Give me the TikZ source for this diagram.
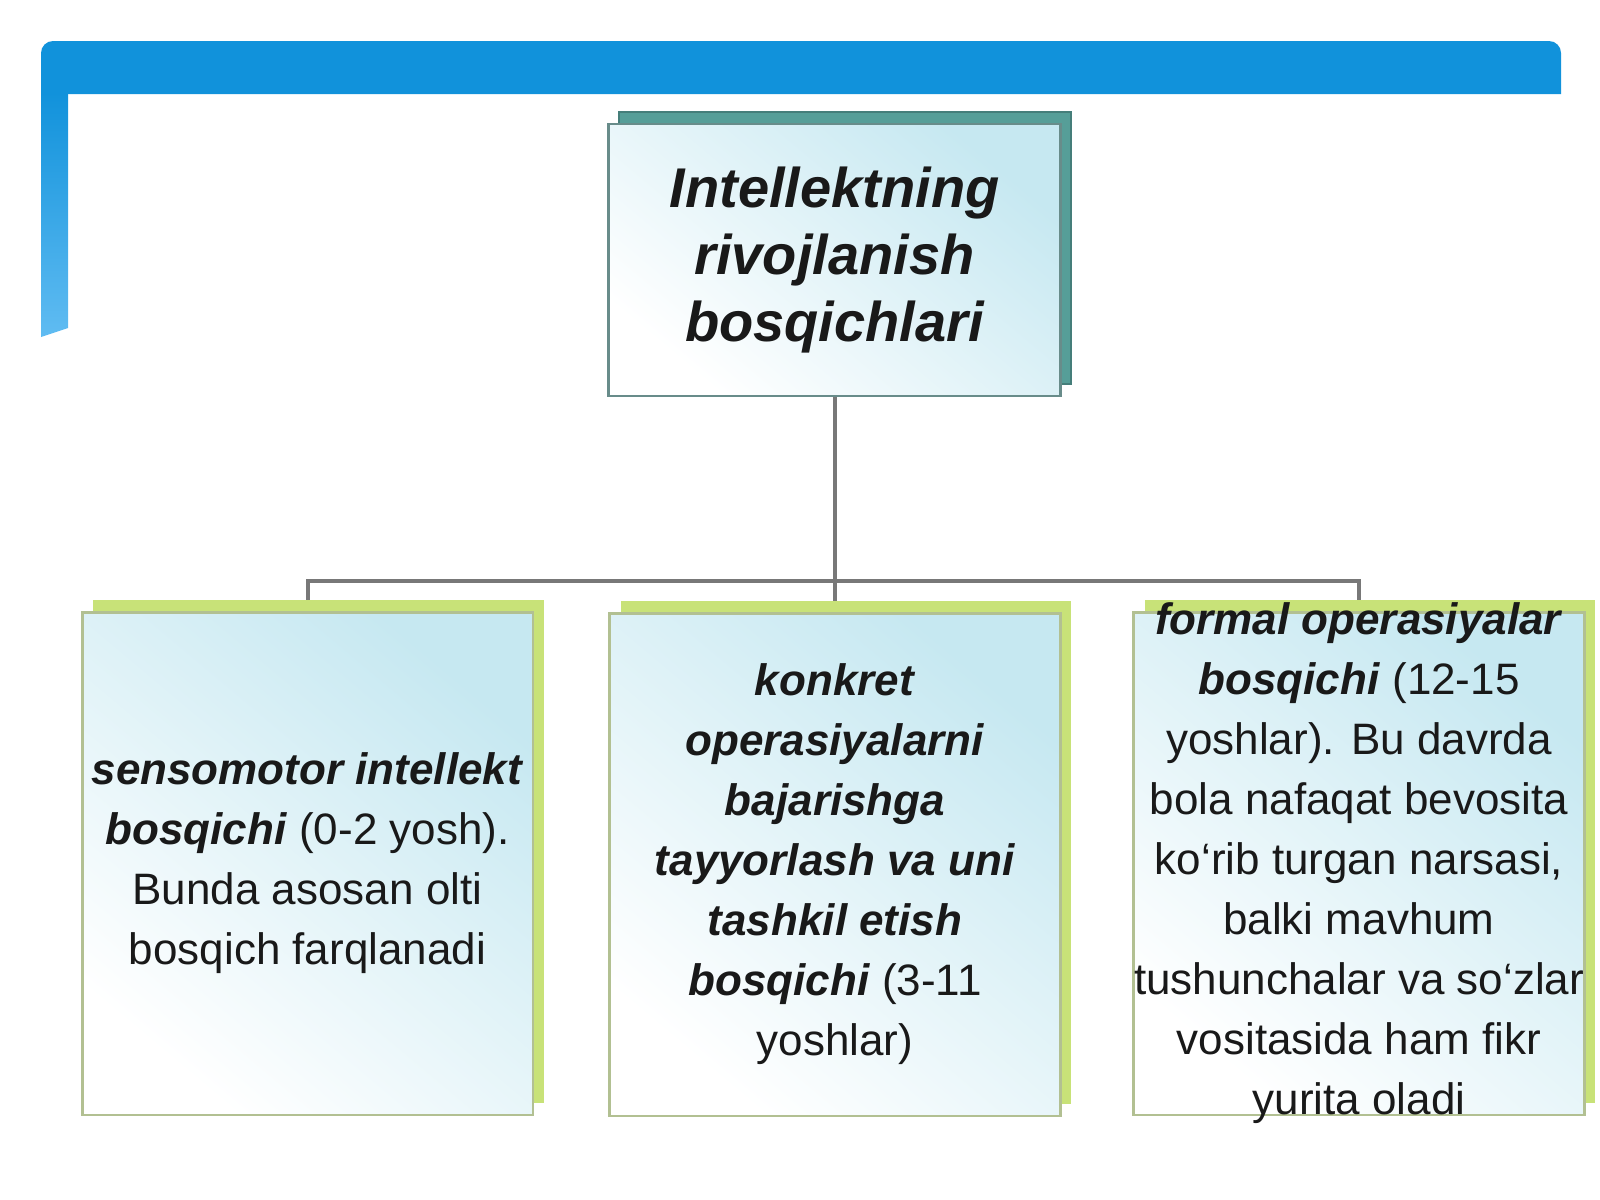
\documentclass[tikz,border=0pt]{standalone}
\usepackage{fontspec}
\setmainfont{Liberation Sans}
\usepackage{tikz}
\usetikzlibrary{backgrounds}

\definecolor{headblue}{RGB}{17,146,219}
\definecolor{headlight}{RGB}{96,188,242}
\definecolor{tealback}{RGB}{86,158,152}
\definecolor{tealline}{RGB}{104,140,138}
\definecolor{greenback}{RGB}{200,226,120}
\definecolor{greenline}{RGB}{178,192,146}
\definecolor{paleblue}{RGB}{198,232,241}
\definecolor{linkgray}{RGB}{120,120,120}
\definecolor{inkdark}{RGB}{25,25,25}

\begin{document}
\begin{tikzpicture}[x=0.75pt,y=0.75pt,yscale=-1,xscale=1,
  titlebox/.style={draw=tealline, line width=2pt, top color=paleblue, bottom color=white, shading angle=-40, minimum width=339pt, minimum height=204pt, inner sep=0pt, align=center, text=inkdark, font=\fontsize{42}{50}\selectfont\bfseries\itshape},
  titleback/.style={fill=tealback, draw=tealback!80!black, line width=1pt, minimum width=339pt, minimum height=204pt},
  stagebox/.style={draw=greenline, line width=2pt, top color=paleblue, bottom color=white, shading angle=-40, minimum width=338pt, minimum height=377pt, inner sep=0pt},
  stageback/.style={fill=greenback, minimum width=338pt, minimum height=377pt},
  stagetext/.style={align=center, inner sep=0pt, text=inkdark, font=\fontsize{33}{45}\selectfont},
  link/.style={draw=linkgray, line width=3pt}]
\useasboundingbox (0,0) rectangle (1600,1200);

%Shape: Header bar
\fill[headblue] (41,94) -- (41,53) arc[start angle=180, end angle=270, radius=12] -- (1549,41) arc[start angle=270, end angle=360, radius=12] -- (1561,94) -- cycle ;
%Shape: Header side
\shade[top color=headblue, bottom color=headlight] (41,93) -- (68,93) -- (68,328) -- (41,337) -- cycle ;

%Shape: Rectangle (title)
\node[titleback] (intelback) at (845,248) {};
\node[titlebox] (intel) at (834.5,260) {Intellektning\\rivojlanish\\bosqichlari};

%Shape: Rectangle (left)
\node[stageback] (sensoback) at (318.5,851.5) {};
\node[stagebox] (senso) at (307.5,863.5) {};
%Shape: Rectangle (middle)
\node[stageback] (konkretback) at (846,852.5) {};
\node[stagebox] (konkret) at (835,864.5) {};
%Shape: Rectangle (right)
\node[stageback] (formalback) at (1370,851.5) {};
\node[stagebox] (formal) at (1359,863.5) {};

% Text Node
\node[stagetext] (sensotext) at (senso.center) {\textbf{\textit{sensomotor intellekt}}\\\textbf{\textit{bosqichi}} (0-2 yosh).\\Bunda asosan olti\\bosqich farqlanadi};
% Text Node
\node[stagetext] (konkrettext) at (konkret.center) {\textbf{\textit{konkret}}\\\textbf{\textit{operasiyalarni}}\\\textbf{\textit{bajarishga}}\\\textbf{\textit{tayyorlash va uni}}\\\textbf{\textit{tashkil etish}}\\\textbf{\textit{bosqichi}} (3-11\\yoshlar)};
% Text Node
\node[stagetext] (formaltext) at (formal.center) {\textbf{\textit{formal operasiyalar}}\\\textbf{\textit{bosqichi}} (12-15\\yoshlar). Bu davrda\\bola nafaqat bevosita\\ko‘rib turgan narsasi,\\balki mavhum\\tushunchalar va so‘zlar\\vositasida ham fikr\\yurita oladi};

%Straight Lines
\begin{scope}[on background layer]
\draw[link] (intel.south) -- ++(0,184) -| (senso.north) ;
\draw[link] (intel.south) -- ++(0,184) -| (formal.north) ;
\draw[link] (intel.south) -- (intel.south |- konkret.north) ;
\end{scope}

\end{tikzpicture}
\end{document}
